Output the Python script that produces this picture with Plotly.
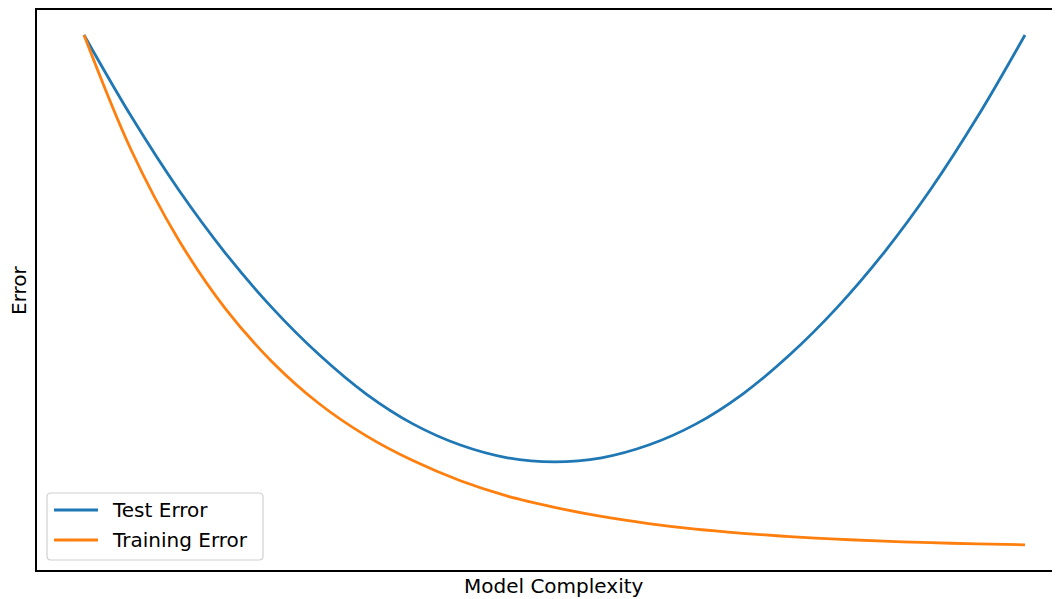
import plotly.graph_objects as go

# Model complexity (index of sampled points along the x axis)
complexity = list(range(21))

# Errors (arbitrary units, 0..10)
test_error = [10.0, 8.41, 6.98, 5.73, 4.65, 3.73, 2.96, 2.37, 1.96, 1.71, 1.63,
              1.71, 1.96, 2.37, 2.96, 3.73, 4.65, 5.73, 6.98, 8.41, 10.0]
training_error = [10.0, 7.75, 6.00, 4.64, 3.59, 2.77, 2.14, 1.65, 1.26, 0.96, 0.74,
                  0.56, 0.42, 0.31, 0.23, 0.165, 0.115, 0.076, 0.045, 0.022, 0.004]

series_names = ["Test Error", "Training Error"]
series_colors = ["#1f77b4", "#ff7f0e"]

OFF = 8  # page body margin in the browser
W, H = 1060 - OFF, 599 - OFF
ML, MR, MT, MB = 37 - OFF, 0, 10 - OFF, 29
PW, PH = W - ML - MR, H - MT - MB
FONT = "DejaVu Sans"


def px(x):
    # x given in window pixels
    return (x - OFF - ML) / PW


def py(y):
    return (H - MB - (y - OFF)) / PH


fig = go.Figure()
for name, vals, col in zip(series_names, [test_error, training_error], series_colors):
    fig.add_trace(go.Scatter(x=complexity, y=vals, mode="lines", name=name,
                             line=dict(color=col, width=2.8, shape="spline", smoothing=1.0),
                             showlegend=False))

# custom matplotlib-like legend
x0, x1, y0, y1, r = 47, 263, 493, 560, 4
path = (f"M {px(x0 + r)} {py(y0)} L {px(x1 - r)} {py(y0)} "
        f"Q {px(x1)} {py(y0)} {px(x1)} {py(y0 + r)} L {px(x1)} {py(y1 - r)} "
        f"Q {px(x1)} {py(y1)} {px(x1 - r)} {py(y1)} L {px(x0 + r)} {py(y1)} "
        f"Q {px(x0)} {py(y1)} {px(x0)} {py(y1 - r)} L {px(x0)} {py(y0 + r)} "
        f"Q {px(x0)} {py(y0)} {px(x0 + r)} {py(y0)} Z")
shapes = [dict(type="path", xref="paper", yref="paper", path=path,
               line=dict(color="#d0d0d0", width=1.2), fillcolor="rgba(255,255,255,0.8)")]
annotations = []
for i, (name, col) in enumerate(zip(series_names, series_colors)):
    yy = 510 + 30 * i
    shapes.append(dict(type="line", xref="paper", yref="paper",
                       x0=px(54), x1=px(98), y0=py(yy), y1=py(yy),
                       line=dict(color=col, width=2.8)))
    annotations.append(dict(xref="paper", yref="paper", x=px(110), y=py(yy),
                            xanchor="left", yanchor="middle", text=name, showarrow=False,
                            font=dict(family=FONT, size=20, color="black")))

annotations.append(dict(xref="paper", yref="paper", x=px(554), y=py(586),
                        xanchor="center", yanchor="middle", text="Model Complexity",
                        showarrow=False, font=dict(family=FONT, size=20, color="black")))
annotations.append(dict(xref="paper", yref="paper", x=px(19), y=py(290),
                        xanchor="center", yanchor="middle", text="Error", textangle=-90,
                        borderpad=0,
                        showarrow=False, font=dict(family=FONT, size=20, color="black")))

# data units: x index 0 at window px 84, 20 at px 1025
xscale = (1025 - 84) / 20.0
fig.update_layout(
    width=W, height=H,
    margin=dict(l=ML, r=MR, t=MT, b=MB),
    paper_bgcolor="white", plot_bgcolor="white",
    font=dict(family=FONT, size=20, color="black"),
    shapes=shapes, annotations=annotations,
    xaxis=dict(range=[(37 - 84) / xscale, (1060 - 84) / xscale], showgrid=False,
               zeroline=False, showticklabels=False, ticks="", showline=True, mirror=True,
               linecolor="black", linewidth=1.5),
    yaxis=dict(range=[-0.49, 10.49], showgrid=False, zeroline=False,
               showticklabels=False, ticks="", showline=True, mirror=False,
               linecolor="black", linewidth=1.5),
)

fig.write_html("out.html")
